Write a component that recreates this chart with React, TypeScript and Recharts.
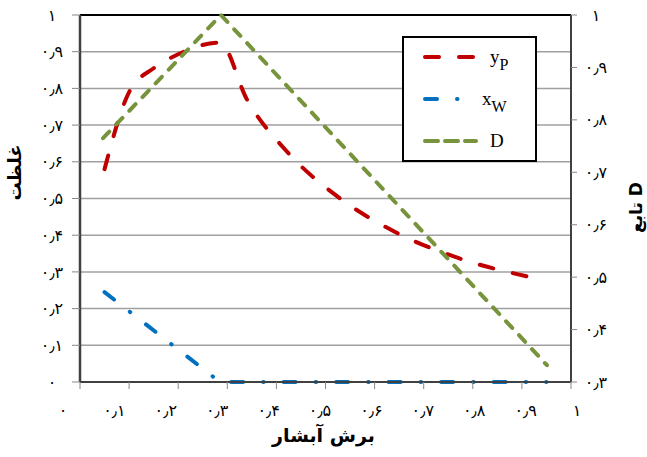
import { LineChart, Line, XAxis, YAxis, CartesianGrid, ReferenceLine, Label } from "recharts";

const xTicks = [0, 0.1, 0.2, 0.3, 0.4, 0.5, 0.6, 0.7, 0.8, 0.9, 1];
const leftTicks = [0, 0.1, 0.2, 0.3, 0.4, 0.5, 0.6, 0.7, 0.8, 0.9, 1];
const rightTicks = [0.3, 0.4, 0.5, 0.6, 0.7, 0.8, 0.9, 1];

// yP (left axis)
const ypX = [0.05, 0.1, 0.15, 0.2, 0.285, 0.34, 0.42, 0.53, 0.64, 0.77, 0.92];
const ypY = [0.58, 0.79, 0.855, 0.893, 0.925, 0.77, 0.63, 0.5, 0.41, 0.338, 0.285];
// xW (left axis)
const xwX = [0.05, 0.285, 0.95];
const xwY = [0.245, 0, 0];
// D (right axis)
const dX = [0.047, 0.287, 0.951];
const dY = [0.765, 1.0, 0.332];

const ypData = ypX.map((x, i) => ({ x, v: ypY[i] }));
const xwData = xwX.map((x, i) => ({ x, v: xwY[i] }));
const dData = dX.map((x, i) => ({ x, v: dY[i] }));

const RED = "#C00000";
const BLUE = "#0070C0";
const GREEN = "#77933C";
const TICK_FONT = "'DejaVu Sans', sans-serif";

const toFa = (v: number) => {
  const r = Math.round(v * 10) / 10;
  const s = Number.isInteger(r) ? String(r) : r.toFixed(1);
  return s.replace(/\d/g, (d) => "۰۱۲۳۴۵۶۷۸۹"[+d]).replace(".", "٫");
};

function LeftTick({ x, y, payload }: any) {
  return (
    <text x={x - 20} y={y} dy="0.35em" textAnchor="middle" fontSize={16} fontFamily={TICK_FONT} fill="#000">
      {toFa(payload.value)}
    </text>
  );
}

function RightTick({ x, y, payload }: any) {
  return (
    <text x={x + 19} y={y} dy="0.35em" textAnchor="middle" fontSize={16} fontFamily={TICK_FONT} fill="#000">
      {toFa(payload.value)}
    </text>
  );
}

// the category labels sit on a slightly wider scale than the tick marks
function BottomTick({ x, y, payload }: any) {
  return (
    <text x={x - 17 + 23 * payload.value} y={y + 21} dy="0.35em" textAnchor="middle" fontSize={16} fontFamily={TICK_FONT} fill="#000">
      {toFa(payload.value)}
    </text>
  );
}

const titleStyle = { fontWeight: 700, fontFamily: TICK_FONT, fill: "#000" };

function LegendBox() {
  const rows = [
    { y: 19, color: RED, dash: "14 20", main: "y", sub: "P" },
    { y: 61, color: BLUE, dash: "12 20 0.5 20", main: "x", sub: "W" },
    { y: 103, color: GREEN, dash: "13 7", main: "D", sub: "" },
  ];
  return (
    <div
      style={{
        position: "absolute",
        left: 402,
        top: 36,
        width: 135,
        height: 126,
        border: "2px solid #000",
        boxSizing: "border-box",
        background: "#fff",
      }}
    >
      <svg width={131} height={122} style={{ display: "block" }}>
        {rows.map((r) => (
          <g key={r.main}>
            <line x1={21} x2={72} y1={r.y} y2={r.y} stroke={r.color} strokeWidth={4} strokeDasharray={r.dash} strokeLinecap="round" />
            <text x={r.main === "x" ? 78 : 86} y={r.y + 6} fontSize={19} fontFamily="'Liberation Serif', serif" fill="#000">
              {r.main}
              {r.sub && (
                <tspan dy={7} fontSize={16}>
                  {r.sub}
                </tspan>
              )}
            </text>
          </g>
        ))}
      </svg>
    </div>
  );
}

export default function App() {
  return (
    <div style={{ position: "absolute", left: 0, top: 0, width: 647, height: 457, background: "#fff" }}>
      <LineChart width={647} height={457} margin={{ top: 15, right: 0, bottom: 0, left: 0 }}>
        <CartesianGrid yAxisId="left" vertical={false} stroke="#a0a0a0" strokeWidth={1.5} />
        <XAxis
          type="number"
          dataKey="x"
          domain={[0, 1]}
          ticks={xTicks}
          interval={0}
          height={75}
          tickSize={7}
          tickMargin={0}
          tick={<BottomTick />}
          axisLine={{ stroke: "#404040", strokeWidth: 2 }}
          tickLine={{ stroke: "#888" }}
        >
          <Label
            content={({ viewBox }: any) => (
              <text x={viewBox.x + viewBox.width / 2 - 2} y={viewBox.y + 60} textAnchor="middle" fontSize={19} {...titleStyle}>
                برش آبشار
              </text>
            )}
          />
        </XAxis>
        <YAxis
          yAxisId="left"
          domain={[0, 1]}
          ticks={leftTicks}
          interval={0}
          width={80}
          tickSize={8}
          tickMargin={0}
          tick={<LeftTick />}
          axisLine={{ stroke: "#404040", strokeWidth: 2.5 }}
          tickLine={{ stroke: "#888" }}
        >
          <Label
            content={({ viewBox }: any) => {
              const cx = viewBox.x + 15;
              const cy = viewBox.y + viewBox.height / 2 - 26;
              return (
                <text x={cx} y={cy} dy="0.35em" textAnchor="middle" fontSize={18} transform={`rotate(-90 ${cx} ${cy})`} {...titleStyle}>
                  غلظت
                </text>
              );
            }}
          />
        </YAxis>
        <YAxis
          yAxisId="right"
          orientation="right"
          domain={[0.3, 1]}
          ticks={rightTicks}
          interval={0}
          width={76}
          tickSize={6}
          tickMargin={0}
          tick={<RightTick />}
          axisLine={{ stroke: "#404040", strokeWidth: 2 }}
          tickLine={{ stroke: "#888" }}
        >
          <Label
            content={({ viewBox }: any) => {
              const cx = viewBox.x + viewBox.width - 11;
              const cy = viewBox.y + viewBox.height / 2 + 9;
              return (
                <text x={cx} y={cy} dy="0.35em" textAnchor="middle" fontSize={17} transform={`rotate(-90 ${cx} ${cy})`} {...titleStyle}>
                  تابع D
                </text>
              );
            }}
          />
        </YAxis>
        <ReferenceLine yAxisId="left" y={1} stroke="#000" strokeWidth={2} />
        <Line
          yAxisId="left"
          data={ypData}
          dataKey="v"
          type="monotone"
          stroke={RED}
          strokeWidth={4}
          strokeDasharray="14 20"
          strokeLinecap="round"
          dot={false}
          isAnimationActive={false}
        />
        <Line
          yAxisId="left"
          data={xwData}
          dataKey="v"
          type="linear"
          stroke={BLUE}
          strokeWidth={4}
          strokeDasharray="12 20 0.5 20"
          strokeLinecap="round"
          dot={false}
          isAnimationActive={false}
        />
        <Line
          yAxisId="right"
          data={dData}
          dataKey="v"
          type="linear"
          stroke={GREEN}
          strokeWidth={4}
          strokeDasharray="9 10"
          strokeLinecap="round"
          dot={false}
          isAnimationActive={false}
        />
      </LineChart>
      <LegendBox />
    </div>
  );
}
